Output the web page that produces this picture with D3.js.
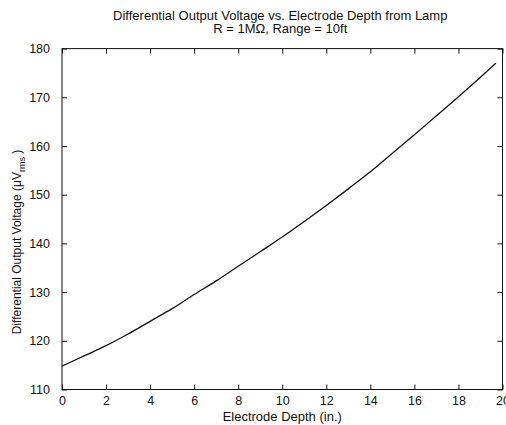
<!DOCTYPE html>
<html>
<head>
<meta charset="utf-8">
<script src="https://cdn.jsdelivr.net/npm/d3@7"></script>
<style>
body { margin: 0; background: #fff; }
svg text { font-family: "Liberation Sans", Arial, sans-serif; fill: #111; }
</style>
</head>
<body>
<script>
// depth (in.) and voltage (uV rms)
var depth = [0, 1, 2, 3, 4, 5, 6, 7, 8, 9, 10, 11, 12, 13, 14, 15, 16, 17, 18, 19, 19.7];
var voltage = [114.8, 116.9, 119.0, 121.4, 124.0, 126.6, 129.5, 132.3, 135.3, 138.3, 141.3,
               144.5, 147.8, 151.2, 154.7, 158.5, 162.3, 166.2, 170.1, 174.1, 177.0];
var xTicks = [0, 2, 4, 6, 8, 10, 12, 14, 16, 18, 20];
var yTicks = [110, 120, 130, 140, 150, 160, 170, 180];
var titleLines = ["Differential Output Voltage vs. Electrode Depth from Lamp", "R = 1M\u03A9, Range = 10ft"];

var w = 506;
var h = 425;
var mLeft = 62, mRight = 502.5, mTop = 48.6, mBottom = 389.5;

var svg = d3.select("body")
			.append("svg")
			.attr("width", w)
			.attr("height", h);

var x = d3.scaleLinear().domain([0, 20]).range([mLeft, mRight]);
var y = d3.scaleLinear().domain([110, 180]).range([mBottom, mTop]);

// ticks on all four sides, pointing in
function styleAxis(g) {
	g.select(".domain").remove();
	g.selectAll("line").attr("stroke", "#111");
	g.selectAll("text").attr("font-size", "12.5px").attr("fill", "#111");
}

svg.append("g")
   .attr("transform", "translate(0," + mBottom + ")")
   .call(d3.axisBottom(x).tickValues(xTicks).tickSize(-5).tickPadding(7))
   .call(styleAxis);
svg.append("g")
   .attr("transform", "translate(0," + mTop + ")")
   .call(d3.axisTop(x).tickValues(xTicks).tickSize(-5).tickFormat(""))
   .call(styleAxis);
svg.append("g")
   .attr("transform", "translate(" + mLeft + ",0)")
   .call(d3.axisLeft(y).tickValues(yTicks).tickSize(-5).tickPadding(12))
   .call(styleAxis);
svg.append("g")
   .attr("transform", "translate(" + mRight + ",0)")
   .call(d3.axisRight(y).tickValues(yTicks).tickSize(-5).tickFormat(""))
   .call(styleAxis);

svg.append("rect")
   .attr("x", mLeft)
   .attr("y", mTop)
   .attr("width", mRight - mLeft)
   .attr("height", mBottom - mTop)
   .attr("fill", "none")
   .attr("stroke", "#111")
   .attr("stroke-width", 1);

var line = d3.line()
			 .x(function(d, i) { return x(depth[i]); })
			 .y(function(d) { return y(d); })
			 .curve(d3.curveMonotoneX);

svg.append("path")
   .datum(voltage)
   .attr("d", line)
   .attr("fill", "none")
   .attr("stroke", "#111")
   .attr("stroke-width", 1.3);

svg.selectAll("text.title")
   .data(titleLines)
   .enter()
   .append("text")
   .attr("class", "title")
   .attr("x", (mLeft + mRight) / 2 - 2)
   .attr("y", function(d, i) { return 19.5 + i * 13.5; })
   .attr("text-anchor", "middle")
   .attr("font-size", "13px")
   .text(function(d) { return d; });

svg.append("text")
   .attr("x", (mLeft + mRight) / 2)
   .attr("y", 421)
   .attr("text-anchor", "middle")
   .attr("font-size", "13px")
   .text("Electrode Depth (in.)");

var ylab = svg.append("text")
   .attr("transform", "translate(21," + 242 + ") rotate(-90)")
   .attr("text-anchor", "middle")
   .attr("font-size", "12px");
ylab.append("tspan").text("Differential Output Voltage (\u03BCV");
ylab.append("tspan").attr("font-size", "9px").attr("dy", 4).text("rms");
ylab.append("tspan").attr("dy", -4).text(" )");
</script>
</body>
</html>
